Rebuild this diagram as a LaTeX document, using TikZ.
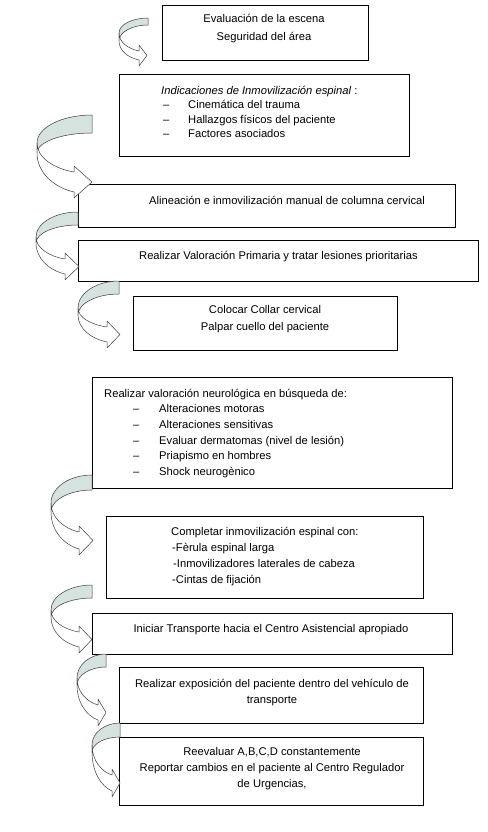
\documentclass[tikz,border=0pt]{standalone}
\usepackage{fontspec}
\setmainfont{Liberation Sans}
\usetikzlibrary{positioning}
\definecolor{backgray}{RGB}{214,226,224}
\definecolor{arrowline}{RGB}{60,60,60}
\tikzset{box/.style={draw, line width=0.9pt, fill=white, inner sep=0pt},
         txt/.style={inner sep=0pt, font=\fontsize{11.2}{15.5}\selectfont},
         arrowback/.style={draw=arrowline, fill=backgray, line width=0.5pt, line join=round},
         arrowfront/.style={draw=arrowline, fill=white, line width=0.5pt, line join=round}
}
\newcommand{\bendarrow}[9]{%
  \draw[arrowback] (#1,#2) .. controls ({#1-0.55*(#1-#3)},#2) and (#3,{#4-0.55*(#4-#2)}) .. (#3,#4) -- (#3,{#4+#5}) .. controls (#3,{#4+#5-0.55*(#4+#5-#2-#6)}) and ({#1-0.55*(#1-#3)},{#2+#6}) .. (#1,{#2+#6}) -- cycle;
  \draw[arrowfront] (#3,#4) .. controls (#3,{#4+0.5*(#7-#4)}) and ({#3+0.45*(#8-#3)},{#7-0.12*(#7-#4)}) .. (#8,#7) -- (#8,{#7-6}) -- (#9,{#7+0.5*(#6+2)}) -- (#8,{#7+#6+8}) -- (#8,{#7+#6+2}) .. controls ({#3+0.45*(#8-#3)},{#7+#6+2-0.12*(#7+#6+2-#4-#5)}) and (#3,{#4+#5+0.5*(#7+#6+2-#4-#5)}) .. (#3,{#4+#5}) -- cycle;
}

\begin{document}
\begin{tikzpicture}[x=1pt, y=-1pt]
        \useasboundingbox (0,0) rectangle (487,832);
        \node [box, minimum width=206pt, minimum height=55pt] (b1) at (265,32.5) {};
        \node [box, minimum width=290pt, minimum height=82pt] (b2) at (264,115) {};
        \node [box, minimum width=377pt, minimum height=43pt] (b3) at (266.5,205.5) {};
        \node [box, minimum width=400pt, minimum height=41pt] (b4) at (278,260.5) {};
        \node [box, minimum width=264pt, minimum height=54pt] (b5) at (265,323) {};
        \node [box, minimum width=360pt, minimum height=111pt] (b6) at (272,432.5) {};
        \node [box, minimum width=317pt, minimum height=82pt] (b7) at (264.5,557) {};
        \node [box, minimum width=360pt, minimum height=41pt] (b8) at (272,633.5) {};
        \node [box, minimum width=304pt, minimum height=56pt] (b9) at (271,695) {};
        \node [box, minimum width=304pt, minimum height=68pt] (b10) at (271,771) {};
        \node [txt, align=center, anchor=north, font=\fontsize{11.2}{18}\selectfont] (t1) at (264,9.4) {\strut Evaluación de la escena\\Seguridad del área};
        \node [txt, align=left, anchor=north west, font=\fontsize{11.2}{14.5}\selectfont] (t2) at (161,83.85) {\strut\textit{Indicaciones de Inmovilización espinal} :\\\hspace*{2pt}\makebox[25pt][l]{–}Cinemática del trauma\\\hspace*{2pt}\makebox[25pt][l]{–}Hallazgos físicos del paciente\\\hspace*{2pt}\makebox[25pt][l]{–}Factores asociados};
        \node [txt, anchor=base] (t3) at (287,204) {Alineación e inmovilización manual de columna cervical};
        \node [txt, anchor=base] (t4) at (278.5,259) {Realizar Valoración Primaria y tratar lesiones prioritarias};
        \node [txt, align=center, anchor=north, font=\fontsize{11.2}{17}\selectfont] (t5) at (265,301.1) {\strut Colocar Collar cervical\\Palpar cuello del paciente};
        \node [txt, align=left, anchor=north west, font=\fontsize{11.2}{15.6}\selectfont] (t6) at (104,386.1) {\strut Realizar valoración neurológica en búsqueda de:\\\hspace*{29pt}\makebox[26pt][l]{–}Alteraciones motoras\\\hspace*{29pt}\makebox[26pt][l]{–}Alteraciones sensitivas\\\hspace*{29pt}\makebox[26pt][l]{–}Evaluar dermatomas (nivel de lesión)\\\hspace*{29pt}\makebox[26pt][l]{–}Priapismo en hombres\\\hspace*{29pt}\makebox[26pt][l]{–}Shock neurogènico};
        \node [txt, align=left, anchor=north west, font=\fontsize{11.2}{16}\selectfont] (t7) at (171,523.8) {\strut Completar inmovilización espinal con:\\\hspace*{1pt}-Fèrula espinal larga\\\hspace*{2pt}-Inmovilizadores laterales de cabeza\\\hspace*{1pt}-Cintas de fijación};
        \node [txt, anchor=base] (t8) at (271,632) {Iniciar Transporte hacia el Centro Asistencial apropiado};
        \node [txt, align=center, anchor=north, font=\fontsize{11.2}{16}\selectfont] (t9) at (272,675.8) {\strut Realizar exposición del paciente dentro del vehículo de\\transporte};
        \node [txt, align=center, anchor=north, font=\fontsize{11.2}{16}\selectfont] (t10) at (272,743.8) {\strut Reevaluar A,B,C,D constantemente\\Reportar cambios en el paciente al Centro Regulador\\de Urgencias,};
        \bendarrow{148}{18}{119}{33}{8}{7}{51}{139}{147}
        \bendarrow{92}{115}{37}{143}{10}{18}{172}{74}{92}
        \bendarrow{78}{212}{36}{237}{6}{13}{259}{65}{79}
        \bendarrow{119}{281}{78}{308}{7}{13}{327}{107}{120}
        \bendarrow{92}{475}{51}{503}{9}{15}{532}{79}{93}
        \bendarrow{92}{585}{51}{610}{7}{13}{632}{79}{92}
        \bendarrow{106}{654}{77}{678}{7}{13}{705}{98}{106}
        \bendarrow{120}{723}{92}{745}{7}{14}{775}{112}{120}
      \end{tikzpicture}
\end{document}
